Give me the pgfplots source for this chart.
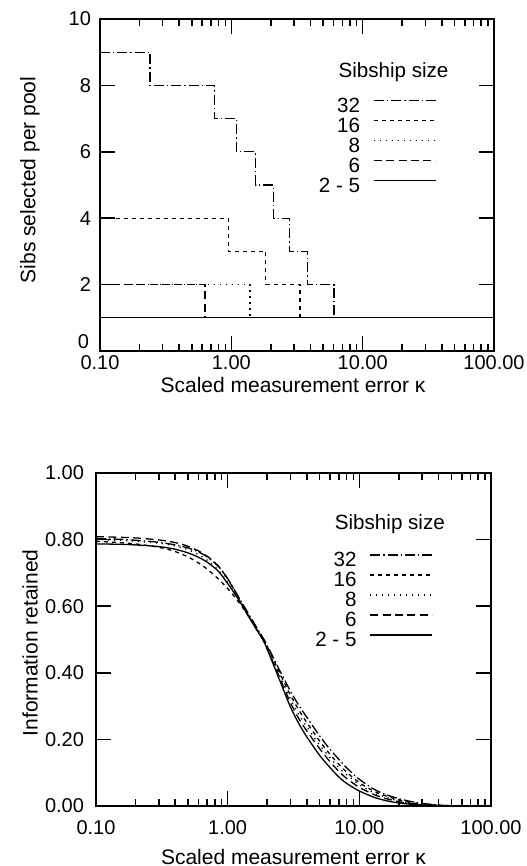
\documentclass[border=0pt]{standalone}
\usepackage{fontspec}
\setmainfont{Liberation Sans}
\usepackage{pgfplots}
\pgfplotsset{compat=1.18}
\tikzset{
 s32/.style={black, line width=0.65pt, dash pattern=on 5pt off 1.5pt on 0.7pt off 1.5pt},
 s16/.style={black, line width=0.65pt, dash pattern=on 2pt off 2pt},
 s8/.style={black, line width=0.65pt, dash pattern=on 0.6pt off 2.4pt},
 s6/.style={black, line width=0.65pt, dash pattern=on 4pt off 2.2pt},
 s2/.style={black, line width=0.65pt, solid},
}
\pgfplotsset{
  legend image code/.code={\draw[#1] (0pt,0.35em) -- (31pt,0.35em);},
}
\begin{document}
\begin{tikzpicture}
\useasboundingbox (-50pt,-257.5pt) rectangle (213pt,175.5pt);
\begin{axis}[
  xmode=log, scale only axis, xmin=0.1, xmax=100,
  axis line style={line width=1pt},
  tick style={line width=0.8pt, color=black},
  major tick length=7.5pt, minor tick length=3.5pt,
  tick align=inside,
  xtick={0.1,1,10,100}, xticklabels={0.10,1.00,10.00,100.00},
  minor xtick={0.2,0.3,0.4,0.5,0.6,0.7,0.8,0.9,2,3,4,5,6,7,8,9,20,30,40,50,60,70,80,90},
  ticklabel style={font=\fontsize{10}{12}\selectfont},
  label style={font=\fontsize{10.5}{12.5}\selectfont},
  legend plot pos=right,
  legend cell align=right,
  legend style={draw=none, fill=none, anchor=north east, column sep=6.5pt,
    nodes={inner sep=0pt, text height=7.5pt, text depth=2.5pt, font=\fontsize{10.3}{12}\selectfont}},
  xlabel={Scaled measurement error κ},
  at={(0pt,0pt)}, anchor=south west,
  width=197pt, height=166pt,
  ymin=0, ymax=10,
  ytick={2,4,6,8,10}, yticklabels={2,4,6,8,10},
  extra y ticks={0}, extra y tick labels={0},
  extra y tick style={yticklabel style={yshift=4.5pt, xshift=-1pt}},
  yticklabel style={xshift=-1pt},
  xticklabel style={yshift=1.5pt},
  ylabel={Sibs selected per pool},
  ylabel style={at={(axis description cs:-0.178,0.515)}, anchor=center},
  xlabel style={at={(axis description cs:0.49,-0.102)}, anchor=center},
  legend style={at={(rel axis cs:0.87,0.776)}},
]
\addplot[s32, const plot] coordinates {(0.1,9) (0.24,8) (0.74,7) (1.1,6) (1.53,5) (2.09,4) (2.77,3) (3.8,2) (6.05,1)};
\addlegendentry{32}
\addplot[s16, const plot] coordinates {(0.1,4) (0.95,3) (1.83,2) (3.33,1)};
\addlegendentry{16}
\addplot[s8, const plot] coordinates {(0.1,2) (1.39,1)};
\addlegendentry{8}
\addplot[s6, const plot] coordinates {(0.1,2) (0.63,1)};
\addlegendentry{6}
\addplot[s2] coordinates {(0.1,1) (100,1)};
\addlegendentry{2 - 5}
\node[font=\fontsize{10.3}{12}\selectfont] at (rel axis cs:0.745,0.841) {Sibship size};
\end{axis}

\begin{axis}[
  xmode=log, scale only axis, xmin=0.1, xmax=100,
  axis line style={line width=1pt},
  tick style={line width=0.8pt, color=black},
  major tick length=7.5pt, minor tick length=3.5pt,
  tick align=inside,
  xtick={0.1,1,10,100}, xticklabels={0.10,1.00,10.00,100.00},
  minor xtick={0.2,0.3,0.4,0.5,0.6,0.7,0.8,0.9,2,3,4,5,6,7,8,9,20,30,40,50,60,70,80,90},
  ticklabel style={font=\fontsize{10}{12}\selectfont},
  label style={font=\fontsize{10.5}{12.5}\selectfont},
  legend plot pos=right,
  legend cell align=right,
  legend style={draw=none, fill=none, anchor=north east, column sep=6.5pt,
    nodes={inner sep=0pt, text height=7.5pt, text depth=2.5pt, font=\fontsize{10.3}{12}\selectfont}},
  xlabel={Scaled measurement error κ},
  at={(-2pt,-227.5pt)}, anchor=south west,
  width=197.5pt, height=166.5pt,
  ymin=0, ymax=1,
  ytick={0,0.2,0.4,0.6,0.8,1}, yticklabels={0.00,0.20,0.40,0.60,0.80,1.00},
  yticklabel style={xshift=-2.5pt},
  xticklabel style={yshift=-3.5pt},
  ylabel={Information retained},
  ylabel style={at={(axis description cs:-0.167,0.49)}, anchor=center},
  xlabel style={at={(axis description cs:0.50,-0.153)}, anchor=center},
  legend style={at={(rel axis cs:0.869,0.776)}},
]
\addplot[s32, smooth] coordinates {(0.1,0.803) (0.15,0.801) (0.2,0.798) (0.3,0.792) (0.4,0.784) (0.5,0.775) (0.6,0.763) (0.7,0.748) (0.85,0.72) (1.0,0.683) (1.13,0.648) (1.3,0.607) (1.6,0.547) (1.85,0.506) (2.0,0.482) (2.5,0.405) (3.0,0.345) (3.5,0.3) (4.0,0.266) (5.0,0.21) (6.0,0.17) (7.0,0.14) (8.0,0.115) (10,0.08) (13,0.05) (16,0.034) (20,0.022) (25,0.013) (30,0.008) (40,0.003) (50,0.001) (100,0)};
\addlegendentry{32}
\addplot[s16, smooth] coordinates {(0.1,0.795) (0.15,0.791) (0.2,0.787) (0.3,0.777) (0.4,0.764) (0.5,0.748) (0.6,0.73) (0.7,0.711) (0.85,0.682) (1.0,0.653) (1.13,0.628) (1.3,0.596) (1.6,0.541) (1.85,0.501) (2.0,0.478) (2.5,0.397) (3.0,0.333) (3.5,0.286) (4.0,0.25) (5.0,0.195) (6.0,0.155) (7.0,0.125) (8.0,0.102) (10,0.07) (13,0.044) (16,0.03) (20,0.018) (25,0.01) (30,0.006) (40,0.002) (50,0.001) (100,0)};
\addlegendentry{16}
\addplot[s8, smooth] coordinates {(0.1,0.80) (0.15,0.798) (0.2,0.795) (0.3,0.789) (0.4,0.781) (0.5,0.77) (0.6,0.755) (0.7,0.738) (0.85,0.708) (1.0,0.672) (1.13,0.64) (1.3,0.6) (1.6,0.54) (1.85,0.5) (2.0,0.474) (2.5,0.39) (3.0,0.322) (3.5,0.272) (4.0,0.237) (5.0,0.183) (6.0,0.145) (7.0,0.115) (8.0,0.094) (10,0.064) (13,0.039) (16,0.026) (20,0.015) (25,0.008) (30,0.005) (40,0.002) (50,0.0007) (100,0)};
\addlegendentry{8}
\addplot[s6, smooth] coordinates {(0.1,0.809) (0.15,0.807) (0.2,0.805) (0.3,0.799) (0.4,0.791) (0.5,0.78) (0.6,0.766) (0.7,0.75) (0.85,0.72) (1.0,0.682) (1.13,0.646) (1.3,0.603) (1.6,0.54) (1.85,0.5) (2.0,0.472) (2.5,0.383) (3.0,0.31) (3.5,0.26) (4.0,0.225) (5.0,0.172) (6.0,0.133) (7.0,0.104) (8.0,0.083) (10,0.056) (13,0.034) (16,0.022) (20,0.013) (25,0.007) (30,0.004) (40,0.0015) (50,0.0005) (100,0)};
\addlegendentry{6}
\addplot[s2, smooth] coordinates {(0.1,0.787) (0.15,0.786) (0.2,0.784) (0.3,0.779) (0.4,0.771) (0.5,0.76) (0.6,0.747) (0.7,0.732) (0.85,0.705) (1.0,0.668) (1.13,0.638) (1.3,0.6) (1.6,0.54) (1.85,0.5) (2.0,0.47) (2.5,0.375) (3.0,0.297) (3.5,0.245) (4.0,0.207) (5.0,0.152) (6.0,0.115) (7.0,0.087) (8.0,0.068) (10,0.045) (13,0.026) (16,0.016) (20,0.009) (25,0.005) (30,0.003) (40,0.001) (50,0.0003) (100,0)};
\addlegendentry{2 - 5}
\node[font=\fontsize{10.3}{12}\selectfont] at (rel axis cs:0.744,0.847) {Sibship size};
\end{axis}
\end{tikzpicture}
\end{document}
